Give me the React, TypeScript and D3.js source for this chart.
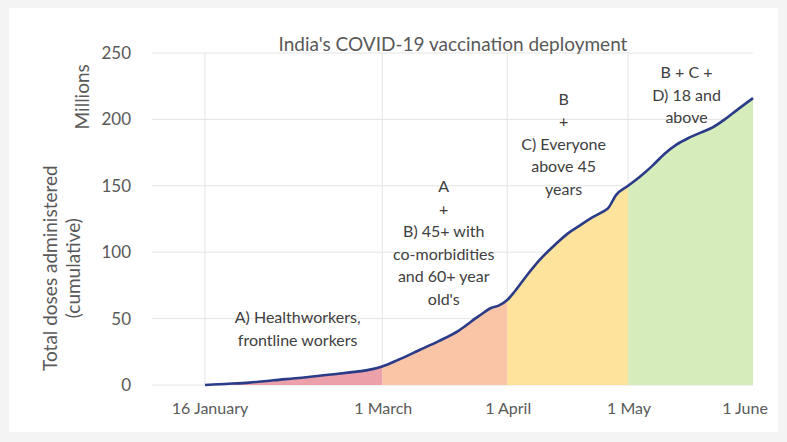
import { useEffect, useRef } from "react";
import * as d3 from "d3";

// cumulative doses administered, millions
const dates = [
  "2021-01-16", "2021-01-21", "2021-01-27", "2021-02-02", "2021-02-09", "2021-02-15",
  "2021-02-21", "2021-02-25", "2021-03-01", "2021-03-05", "2021-03-10", "2021-03-15",
  "2021-03-20", "2021-03-25", "2021-03-28", "2021-03-30", "2021-04-01", "2021-04-03",
  "2021-04-06", "2021-04-09", "2021-04-13", "2021-04-16", "2021-04-19", "2021-04-22",
  "2021-04-25", "2021-04-26", "2021-04-28", "2021-05-01", "2021-05-04", "2021-05-07",
  "2021-05-10", "2021-05-13", "2021-05-16", "2021-05-19", "2021-05-22", "2021-05-25",
  "2021-05-28", "2021-06-01",
];
const doses = [
  0, 0.8, 1.8, 3.6, 5.5, 7.5,
  9.5, 11, 14, 19, 26, 33,
  41, 52, 58, 60, 64, 71,
  83, 94, 106, 114, 120, 126,
  131, 133, 143, 150, 157, 165,
  174, 181, 186, 190, 194, 200,
  207, 216,
];

const yTicks = [0, 50, 100, 150, 200, 250];
const xTickDates = ["2021-01-16", "2021-03-01", "2021-04-01", "2021-05-01", "2021-06-01"];
const xTickLabels = ["16 January", "1 March", "1 April", "1 May", "1 June"];

const phaseStarts = ["2021-01-16", "2021-03-01", "2021-04-01", "2021-05-01"];
const phaseEnds = ["2021-03-01", "2021-04-01", "2021-05-01", "2021-06-01"];
const phaseColors = ["#eca0a9", "#f9c5a6", "#fde39c", "#d6edbb"];
const phaseLabels = [
  ["A) Healthworkers,", "frontline workers"],
  ["A", "+", "B) 45+ with", "co-morbidities", "and 60+ year", "old's"],
  ["B", "+", "C) Everyone", "above 45", "years"],
  ["B + C +", "D) 18 and", "above"],
];
// value (millions) at which each label block starts
const phaseLabelTop = [46.5, 145, 211, 231];

const W = 787;
const H = 442;
const FONT = "Lato, 'Open Sans', sans-serif";
const TXT = "#595959";

export default function App() {
  const ref = useRef<SVGSVGElement>(null);

  useEffect(() => {
    document.body.style.margin = "0";
    if (!ref.current) return;
    const svg = d3.select(ref.current);
    svg.selectAll("*").remove();

    const parse = d3.timeParse("%Y-%m-%d");
    const data = dates.map((d, i) => ({ date: parse(d) as Date, value: doses[i] }));

    const margin = { top: 53, right: 34, bottom: 57, left: 205 };
    const x = d3
      .scaleTime()
      .domain([parse("2021-01-16") as Date, parse("2021-06-01") as Date])
      .range([margin.left, W - margin.right]);
    const y = d3.scaleLinear().domain([0, 250]).range([H - margin.bottom, margin.top]);

    // frame
    svg.append("rect")
      .attr("x", 0).attr("y", 0).attr("width", W).attr("height", H)
      .attr("fill", "#f4f4f4");
    svg.append("rect")
      .attr("x", 9).attr("y", 8).attr("width", W - 18).attr("height", H - 18)
      .attr("fill", "#fff");

    // horizontal grid
    svg.append("g")
      .selectAll("line")
      .data(yTicks)
      .join("line")
      .attr("x1", 152).attr("x2", x.range()[1])
      .attr("y1", (d) => y(d)).attr("y2", (d) => y(d))
      .attr("stroke", "#e4e4e4").attr("stroke-width", 1);

    // vertical grid
    svg.append("g")
      .selectAll("line")
      .data(xTickDates.slice(0, 4))
      .join("line")
      .attr("x1", (d) => x(parse(d) as Date)).attr("x2", (d) => x(parse(d) as Date))
      .attr("y1", y(250)).attr("y2", y(0))
      .attr("stroke", "#e4e4e4").attr("stroke-width", 1);

    // shaded phases
    const area = d3.area<{ date: Date; value: number }>()
      .x((d) => x(d.date))
      .y0(y(0))
      .y1((d) => y(d.value))
      .curve(d3.curveMonotoneX);

    const defs = svg.append("defs");
    phaseStarts.forEach((s, i) => {
      const x0 = x(parse(s) as Date);
      const x1 = x(parse(phaseEnds[i]) as Date);
      defs.append("clipPath").attr("id", `ph${i}`)
        .append("rect")
        .attr("x", x0).attr("y", 0).attr("width", x1 - x0).attr("height", H);
      svg.append("path").datum(data)
        .attr("clip-path", `url(#ph${i})`)
        .attr("fill", phaseColors[i])
        .attr("d", area);
    });

    // line
    svg.append("path").datum(data)
      .attr("fill", "none")
      .attr("stroke", "#2a3b88")
      .attr("stroke-width", 2.6)
      .attr("stroke-linejoin", "round")
      .attr("d", d3.line<{ date: Date; value: number }>()
        .x((d) => x(d.date))
        .y((d) => y(d.value))
        .curve(d3.curveMonotoneX));

    // y tick labels
    svg.append("g")
      .selectAll("text")
      .data(yTicks)
      .join("text")
      .attr("x", 131).attr("y", (d) => y(d))
      .attr("dy", "0.35em")
      .attr("text-anchor", "end")
      .attr("font-family", FONT).attr("font-size", 17).attr("fill", TXT)
      .text((d) => d);

    // x tick labels
    svg.append("g")
      .selectAll("text")
      .data(xTickDates)
      .join("text")
      .attr("x", (d, i) => x(parse(d) as Date) + (i === 0 ? 5 : i === 4 ? -8 : 1))
      .attr("y", 414)
      .attr("text-anchor", "middle")
      .attr("font-family", FONT).attr("font-size", 16).attr("fill", TXT)
      .text((_, i) => xTickLabels[i]);

    // axis titles
    svg.append("text")
      .attr("transform", `translate(89,${y(217)}) rotate(-90)`)
      .attr("text-anchor", "middle")
      .attr("font-family", FONT).attr("font-size", 19).attr("fill", TXT)
      .text("Millions");
    const yt = svg.append("text")
      .attr("transform", `translate(57,${y(88)}) rotate(-90)`)
      .attr("text-anchor", "middle")
      .attr("font-family", FONT).attr("font-size", 19).attr("fill", TXT);
    yt.append("tspan").attr("x", 0).attr("dy", 0).text("Total doses administered");
    yt.append("tspan").attr("x", 0).attr("dy", 23).text("(cumulative)");

    // title
    svg.append("text")
      .attr("x", (x.range()[0] + x.range()[1]) / 2 - 26)
      .attr("y", 51)
      .attr("text-anchor", "middle")
      .attr("font-family", FONT).attr("font-size", 19).attr("fill", TXT)
      .text("India's COVID-19 vaccination deployment");

    // phase annotations
    phaseLabels.forEach((lines, i) => {
      const x0 = x(parse(phaseStarts[i]) as Date);
      const x1 = x(parse(phaseEnds[i]) as Date);
      const cx = (x0 + x1) / 2 + (i === 0 ? 4 : i === 1 ? -1 : -4);
      const t = svg.append("text")
        .attr("x", cx)
        .attr("y", y(phaseLabelTop[i]))
        .attr("text-anchor", "middle")
        .attr("font-family", FONT).attr("font-size", 16).attr("fill", "#404040");
      lines.forEach((l, j) => {
        t.append("tspan").attr("x", cx).attr("dy", j === 0 ? 0 : 22.5).text(l);
      });
    });
  }, []);

  return <svg ref={ref} width={W} height={H} style={{ display: "block" }} />;
}
